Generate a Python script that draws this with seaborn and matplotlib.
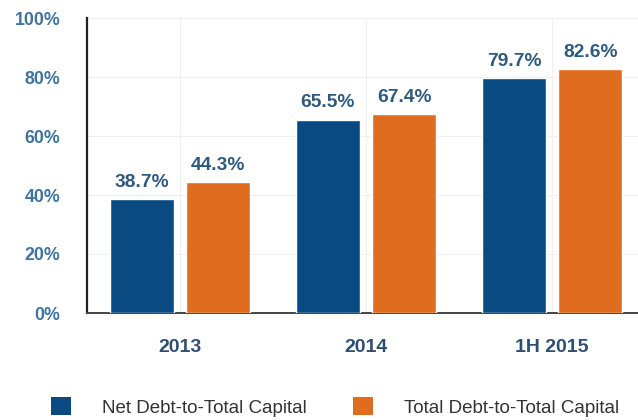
import matplotlib
matplotlib.use("Agg")
import matplotlib.pyplot as plt
import seaborn as sns
import pandas as pd
from matplotlib.patches import Patch
from matplotlib.ticker import FuncFormatter

categories = ["2013", "2014", "1H 2015"]
series_names = ["Net Debt-to-Total Capital", "Total Debt-to-Total Capital"]
net_debt = [38.7, 65.5, 79.7]
total_debt = [44.3, 67.4, 82.6]
y_ticks = [0, 20, 40, 60, 80, 100]

colors = ["#0a4a82", "#e06c20"]

rows = []
for c, v in zip(categories, net_debt):
    rows.append({"period": c, "series": series_names[0], "value": v})
for c, v in zip(categories, total_debt):
    rows.append({"period": c, "series": series_names[1], "value": v})
df = pd.DataFrame(rows)

sns.set_theme(style="white")
plt.rcParams['font.family'] = ['Liberation Sans', 'DejaVu Sans']

fig = plt.figure(figsize=(6.38, 4.20), dpi=100)
ax = fig.add_axes([87/638, 1 - 313/420, (638 - 87)/638, (313 - 18)/420])

sns.barplot(data=df, x="period", y="value", hue="series", order=categories,
            hue_order=series_names, palette=colors, width=0.82, gap=0.16,
            saturation=1, legend=False, ax=ax, zorder=3)

ax.set_xlim(-0.5, 2.462)
ax.set_ylim(0, 100)
ax.set_yticks(y_ticks)
ax.yaxis.set_major_formatter(FuncFormatter(lambda v, p: f"{int(v)}%"))

ax.grid(True, axis="both", color="#efefef", linewidth=0.8, zorder=0)
ax.set_axisbelow(True)

for s in ["top", "right"]:
    ax.spines[s].set_visible(False)
ax.spines["left"].set_color("#222222")
ax.spines["left"].set_linewidth(1.6)
ax.spines["bottom"].set_color("#444444")
ax.spines["bottom"].set_linewidth(1.4)

ax.tick_params(axis="y", which="major", length=8, width=0.8, color="#aaaaaa",
               direction="out", pad=11, labelsize=12.8, labelcolor="#3f73a0")
ax.tick_params(axis="x", which="major", length=7, width=0.8, color="#aaaaaa",
               direction="out", pad=12, labelsize=14, labelcolor="#2e4f73")
for lab in ax.get_yticklabels() + ax.get_xticklabels():
    lab.set_fontweight("bold")
ax.set_xlabel("")
ax.set_ylabel("")

for cont in ax.containers:
    ax.bar_label(cont, labels=[f"{b.get_height():.1f}%" for b in cont],
                 padding=6, fontsize=13.8, fontweight="bold", color="#2f5a80")

handles = [Patch(facecolor=colors[0], edgecolor="none"),
           Patch(facecolor=colors[1], edgecolor="none")]
fig.legend(handles, series_names, loc="center", bbox_to_anchor=(335/638, 1 - 407/420),
           ncol=2, frameon=False, fontsize=13.5, handlelength=1.07, handleheight=1.07,
           handletextpad=1.65, columnspacing=2.5, labelcolor="#333333",
           borderpad=0, borderaxespad=0)

fig.savefig("out.png", dpi=100)
